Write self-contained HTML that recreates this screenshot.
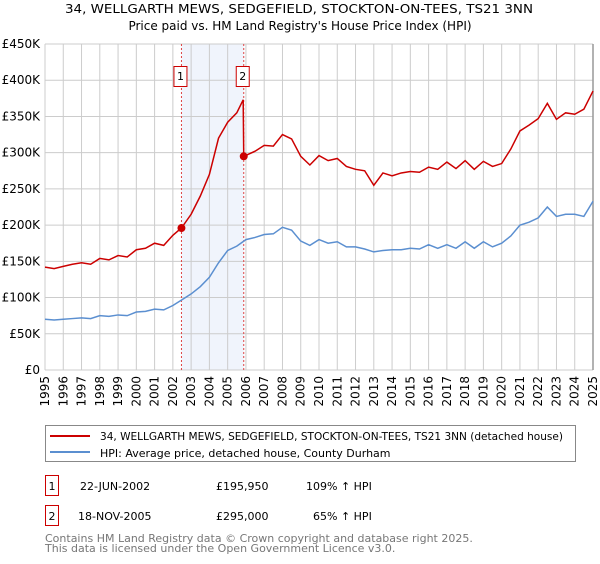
<!DOCTYPE html>
<html><head><meta charset="utf-8"><style>
body{margin:0;background:#fff;width:600px;height:560px;overflow:hidden;font-family:"DejaVu Sans","Liberation Sans",sans-serif}
svg text{font-family:"DejaVu Sans","Liberation Sans",sans-serif}
</style></head><body>
<svg id="chart" width="600" height="560" xmlns="http://www.w3.org/2000/svg">
<text x="299" y="13" text-anchor="middle" font-size="12" textLength="468" lengthAdjust="spacingAndGlyphs">34, WELLGARTH MEWS, SEDGEFIELD, STOCKTON-ON-TEES, TS21 3NN</text>
<text x="300" y="30" text-anchor="middle" font-size="12">Price paid vs. HM Land Registry's House Price Index (HPI)</text>
<g id="grid"></g><g id="axes"></g><g id="series"></g>
<rect x="45.5" y="425.5" width="530" height="36" fill="#fff" stroke="#888"/>
<line x1="50" y1="436" x2="90" y2="436" stroke="#cc0000" stroke-width="2"/>
<text x="100" y="440" font-size="11" textLength="463" lengthAdjust="spacingAndGlyphs">34, WELLGARTH MEWS, SEDGEFIELD, STOCKTON-ON-TEES, TS21 3NN (detached house)</text>
<line x1="50" y1="452" x2="90" y2="452" stroke="#5b8fd0" stroke-width="2"/>
<text x="100" y="457" font-size="11">HPI: Average price, detached house, County Durham</text>
<rect x="45.5" y="475.5" width="13" height="20" fill="#fff" stroke="#cc0000"/>
<text x="52" y="490" text-anchor="middle" font-size="11">1</text>
<text x="80" y="490" font-size="11">22-JUN-2002</text>
<text x="216" y="490" font-size="11">£195,950</text>
<text x="306" y="490" font-size="11">109% ↑ HPI</text>
<rect x="45.5" y="505.5" width="13" height="20" fill="#fff" stroke="#cc0000"/>
<text x="52" y="520" text-anchor="middle" font-size="11">2</text>
<text x="78" y="520" font-size="11">18-NOV-2005</text>
<text x="216" y="520" font-size="11">£295,000</text>
<text x="313" y="520" font-size="11">65% ↑ HPI</text>
<text x="45" y="542" font-size="11" fill="#777">Contains HM Land Registry data © Crown copyright and database right 2025.</text>
<text x="45" y="552" font-size="11" fill="#777">This data is licensed under the Open Government Licence v3.0.</text>
</svg>
<script>
const years=[1995,1996,1997,1998,1999,2000,2001,2002,2003,2004,2005,2006,2007,2008,2009,2010,2011,2012,2013,2014,2015,2016,2017,2018,2019,2020,2021,2022,2023,2024,2025];
const yTicks=[0,50000,100000,150000,200000,250000,300000,350000,400000,450000];
const yTickLabels=["£0","£50K","£100K","£150K","£200K","£250K","£300K","£350K","£400K","£450K"];
const hpiDates=[1995,1995.5,1996,1996.5,1997,1997.5,1998,1998.5,1999,1999.5,2000,2000.5,2001,2001.5,2002,2002.5,2003,2003.5,2004,2004.5,2005,2005.5,2006,2006.5,2007,2007.5,2008,2008.5,2009,2009.5,2010,2010.5,2011,2011.5,2012,2012.5,2013,2013.5,2014,2014.5,2015,2015.5,2016,2016.5,2017,2017.5,2018,2018.5,2019,2019.5,2020,2020.5,2021,2021.5,2022,2022.5,2023,2023.5,2024,2024.5,2025];
const hpiValues=[70,69,70,71,72,71,75,74,76,75,80,81,84,83,89,97,105,115,128,148,165,171,180,183,187,188,197,193,178,172,180,175,177,170,170,167,163,165,166,166,168,167,173,168,173,168,177,168,177,170,175,185,200,204,210,225,212,215,215,212,233];
const priceDates=[1995,1995.5,1996,1996.5,1997,1997.5,1998,1998.5,1999,1999.5,2000,2000.5,2001,2001.5,2002,2002.47,2003,2003.5,2004,2004.5,2005,2005.5,2005.85,2005.88,2006.5,2007,2007.5,2008,2008.5,2009,2009.5,2010,2010.5,2011,2011.5,2012,2012.5,2013,2013.5,2014,2014.5,2015,2015.5,2016,2016.5,2017,2017.5,2018,2018.5,2019,2019.5,2020,2020.5,2021,2021.5,2022,2022.5,2023,2023.5,2024,2024.5,2025];
const priceValues=[142,140,143,146,148,146,154,152,158,156,166,168,175,172,186,196,215,240,270,320,342,355,373,295,302,310,309,325,319,295,283,296,289,292,281,277,275,255,272,268,272,274,273,280,277,287,278,289,277,288,281,285,305,330,338,347,368,346,355,353,360,385];
const saleDates=[2002.47,2005.88];
const saleValues=[195950,295000];
const saleLabels=["1","2"];

const NS="http://www.w3.org/2000/svg";
const X0=45,X1=593,Y0=370,Y1=44;
const xs=y=>X0+(y-1995)/30*(X1-X0);
const ys=v=>Y0-v/450000*(Y0-Y1);
function mk(tag,attrs,parent){const e=document.createElementNS(NS,tag);for(const k in attrs)e.setAttribute(k,attrs[k]);parent.appendChild(e);return e;}
const grid=document.getElementById('grid'),axes=document.getElementById('axes'),series=document.getElementById('series');
const band=mk('rect',{x:xs(saleDates[0]),y:Y1,width:xs(saleDates[1])-xs(saleDates[0]),height:Y0-Y1,fill:'#f0f4fc'},grid);


yTicks.forEach((t,i)=>{
  const l=mk('line',{x1:X0,x2:X1,y1:ys(t),y2:ys(t),stroke:'#ccc'},grid);
  
  
  const tx=mk('text',{x:X0-5,y:ys(t)+4,'text-anchor':'end','font-size':'12'},axes);
  tx.textContent=yTickLabels[i];
  
  
});
years.forEach(yr=>{
  const l=mk('line',{x1:xs(yr),x2:xs(yr),y1:Y1,y2:Y0,stroke:'#ccc'},grid);
  
  
  const tx=mk('text',{x:0,y:0,'text-anchor':'end','font-size':'12',transform:`translate(${xs(yr)+4},376) rotate(-90)`},axes);
  tx.textContent=yr;
  
  
});
const edge=mk('line',{x1:X1,x2:X1,y1:Y1,y2:Y0,stroke:'#999','stroke-width':1.5},grid);


saleDates.forEach((d,i)=>{
  const l=mk('line',{x1:xs(d),x2:xs(d),y1:Y1,y2:Y0,stroke:'#dd4444','stroke-dasharray':'2,2'},grid);
  
  
});
const hp=mk('polyline',{points:hpiDates.map((d,i)=>xs(d)+','+ys(hpiValues[i]*1000)).join(' '),fill:'none',stroke:'#5b8fd0','stroke-width':1.5},series);


const pp=mk('polyline',{points:priceDates.map((d,i)=>xs(d)+','+ys(priceValues[i]*1000)).join(' '),fill:'none',stroke:'#cc0000','stroke-width':1.5},series);


saleDates.forEach((d,i)=>{
  const c=mk('circle',{cx:xs(d),cy:ys(saleValues[i]),r:4,fill:'#cc0000'},series);
  
  
  const b=mk('rect',{x:xs(d)-7.5,y:66.5,width:13,height:20,fill:'#fff',stroke:'#cc0000'},series);
  
  
  const t=mk('text',{x:xs(d)-1,y:80,'text-anchor':'middle','font-size':'11'},series);
  t.textContent=saleLabels[i];
  
  
});
</script>
</body></html>
